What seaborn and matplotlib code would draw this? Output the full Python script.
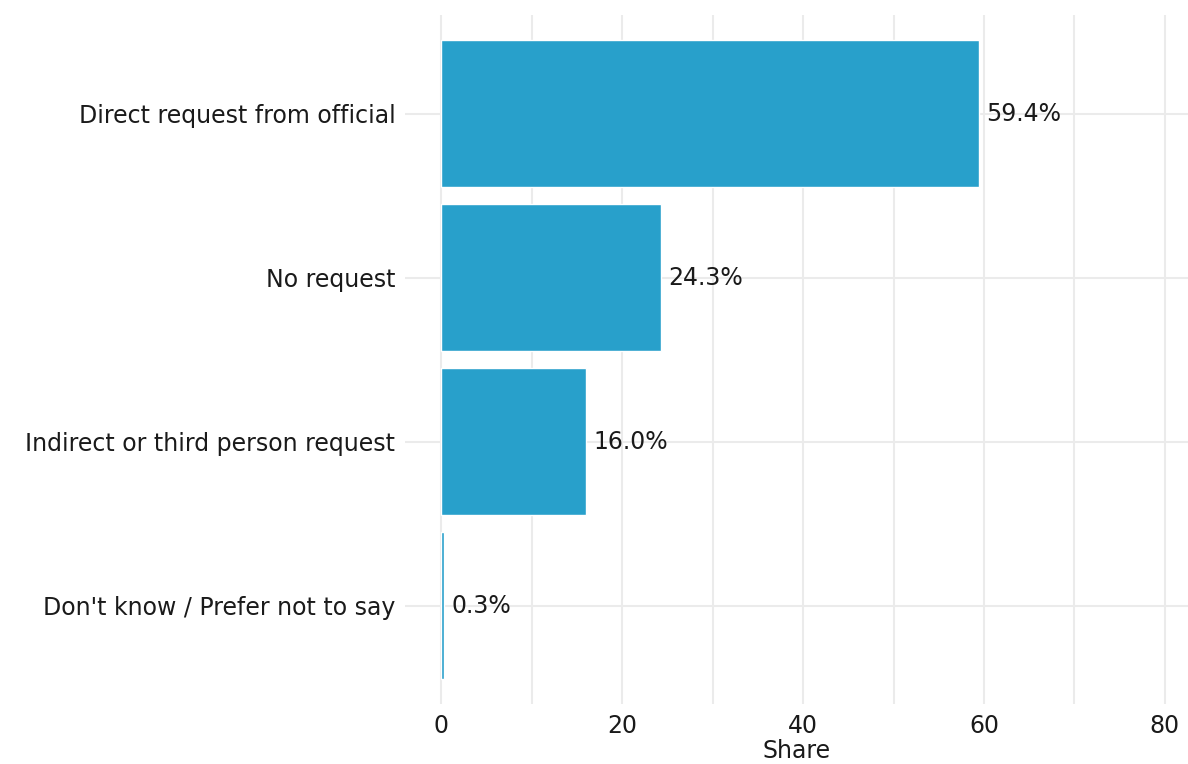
import matplotlib
matplotlib.use('Agg')
import matplotlib.pyplot as plt
import seaborn as sns
import pandas as pd

categories = ['Direct request from official', 'No request',
              'Indirect or third person request', "Don't know / Prefer not to say"]
shares = [59.4, 24.3, 16.0, 0.3]
labels = ['59.4%', '24.3%', '16.0%', '0.3%']
major_ticks = [0, 20, 40, 60, 80]
minor_ticks = [10, 30, 50, 70]

df = pd.DataFrame({'category': categories, 'share': shares})

sns.set_theme(style='white')
plt.rcParams['font.family'] = ['DejaVu Sans']
text_color = '#1a1a1a'
grid_color = '#ebebeb'
fs = 17

fig = plt.figure(figsize=(11.88, 7.64), dpi=100)
ax = fig.add_axes([0.3409, 0.0785, 0.6591, 0.9015])

sns.barplot(data=df, x='share', y='category', color='#28a0cb', saturation=1,
            width=0.9, ax=ax, zorder=3)

ax.set_xlim(-4, 82.55)
ax.set_ylim(3.6, -0.6)
ax.set_xticks(major_ticks)
ax.set_xticks(minor_ticks, minor=True)
ax.grid(True, which='both', axis='x', color=grid_color, linewidth=1.5, zorder=0)
ax.grid(True, which='major', axis='y', color=grid_color, linewidth=1.5, zorder=0)
ax.set_axisbelow(True)
for s in ax.spines.values():
    s.set_visible(False)

ax.tick_params(axis='both', which='both', length=0, labelsize=fs, colors=text_color)
ax.tick_params(axis='y', pad=7)
ax.tick_params(axis='x', pad=7)
ax.set_xlabel('Share', fontsize=fs, color=text_color, labelpad=1)
ax.set_ylabel('')

for i, (v, lab) in enumerate(zip(shares, labels)):
    ax.text(v + 0.8, i, lab, va='center', ha='left', fontsize=fs, color=text_color)

fig.savefig('out.png', dpi=100)
